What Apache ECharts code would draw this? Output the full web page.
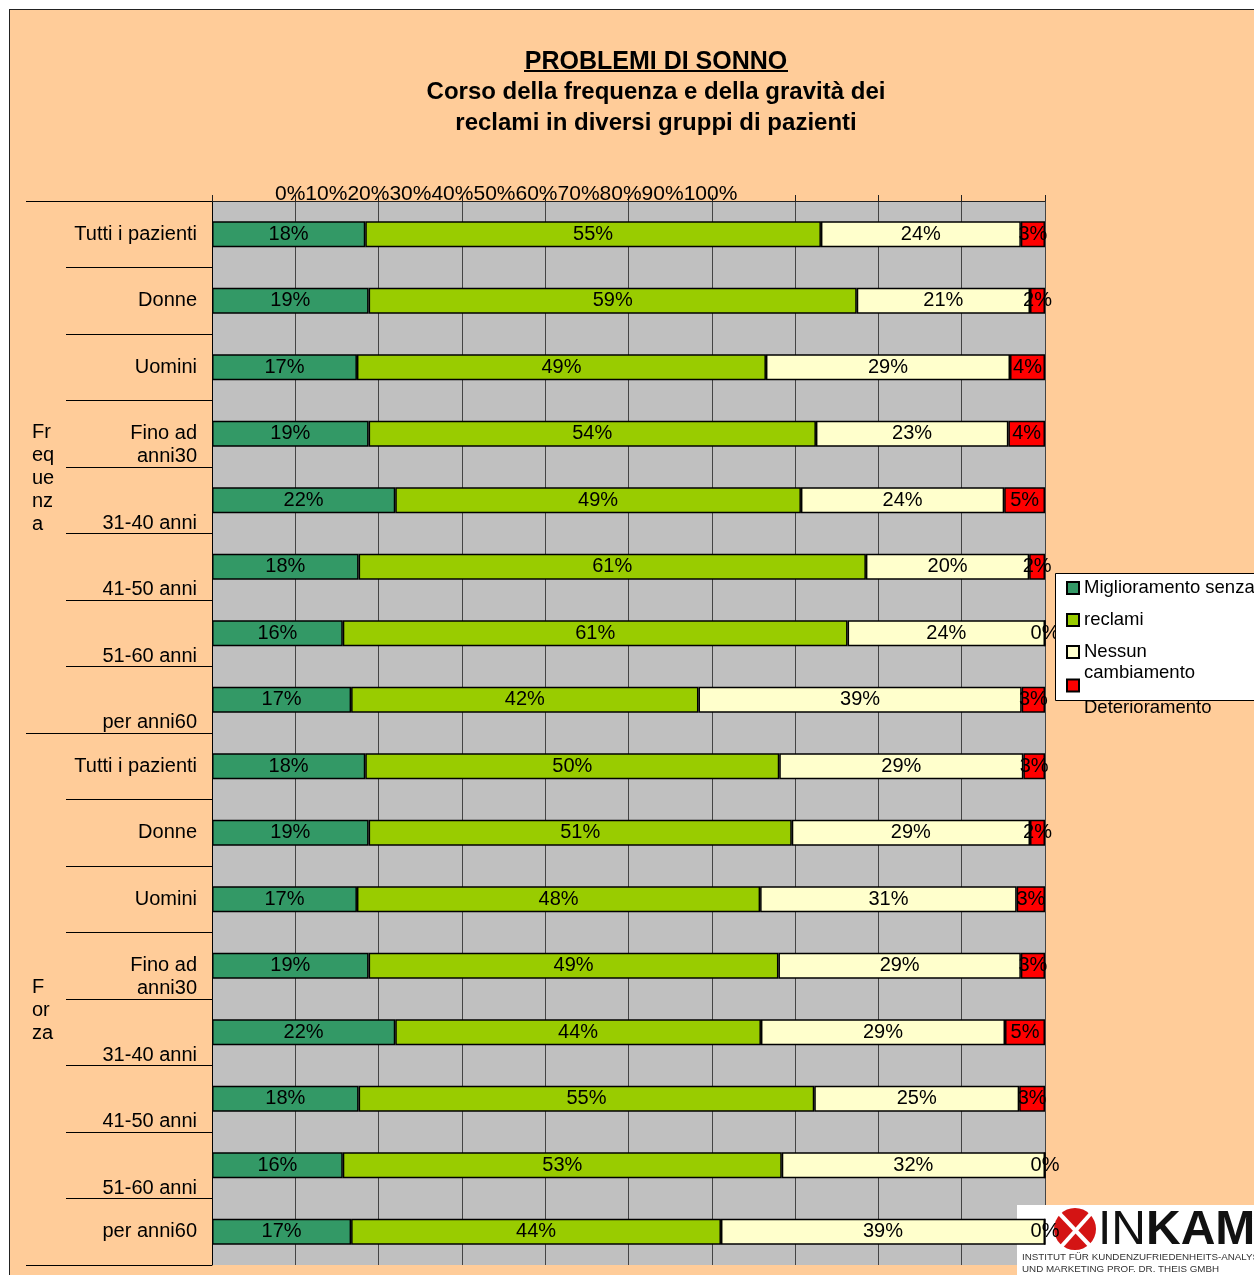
<!DOCTYPE html>
<html>
<head>
<meta charset="utf-8">
<title>Problemi di sonno</title>
<script src="https://cdn.jsdelivr.net/npm/echarts@6/dist/echarts.min.js"></script>
<style>
  html, body { margin: 0; padding: 0; background: #fff; }
  #wrap { position: relative; width: 1254px; height: 1275px; overflow: hidden; }
  #frame { position: absolute; left: 9px; top: 9px; width: 1300px; height: 1300px; background: #FFCC99; border: 1px solid #222; }
  #chart { position: absolute; left: 0; top: 0; width: 1254px; height: 1275px; }
</style>
</head>
<body>
<div id="wrap">
  <div id="frame"></div>
  <div id="chart"></div>
</div>
<script>
// righe del grafico (dall'alto in basso)
const categories = [
  'Tutti i pazienti', 'Donne', 'Uomini', '\nFino ad\nanni30',
  '\n\n31-40 anni', '\n\n41-50 anni', '\n\n51-60 anni', '\n\nper anni60',
  'Tutti i pazienti', 'Donne', 'Uomini', '\nFino ad\nanni30',
  '\n\n31-40 anni', '\n\n41-50 anni', '\n\n51-60 anni', 'per anni60'
]
const groups = ['Frequenza', 'Forza']
const tickLabels = ['0%', '10%', '20%', '30%', '40%', '50%', '60%', '70%', '80%', '90%', '100%']

const seriesNames = ['Miglioramento', 'senza reclami', 'Nessun cambiamento', 'Deterioramento']
// testo della legenda come appare (a capo di Excel)
const legendText = ['\nMiglioramento senza\n', '\nreclami\n', '\nNessun\ncambiamento', '\n\nDeterioramento']

// percentuali
const miglioramento = [18.4, 18.8, 17.4, 18.8, 22.0, 17.6, 15.7, 16.7, 18.4, 18.8, 17.4, 18.8, 22.0, 17.6, 15.7, 16.7]
const senzaReclami = [54.7, 58.6, 49.1, 53.7, 48.7, 60.9, 60.6, 41.7, 49.7, 50.8, 48.4, 49.2, 43.9, 54.7, 52.7, 44.4]
const nessunCambiamento = [24.0, 20.8, 29.3, 23.1, 24.4, 19.6, 23.7, 38.8, 29.3, 28.6, 30.8, 29.1, 29.3, 24.6, 31.6, 38.9]
const deterioramento = [2.9, 1.8, 4.2, 4.4, 4.9, 1.9, 0, 2.8, 2.6, 1.8, 3.4, 2.9, 4.8, 3.1, 0, 0]

const colors = ['#339966', '#99CC00', '#FFFFCC', '#FF0000']
const FONT = '"Liberation Sans", Arial, sans-serif'

const chart = echarts.init(document.getElementById('chart'))

const values = [miglioramento, senzaReclami, nessunCambiamento, deterioramento]
const series = seriesNames.map((name, i) => ({
  name: name,
  type: 'bar',
  stack: 'tot',
  barWidth: 26,
  data: values[i],
  itemStyle: { color: colors[i], borderColor: '#000', borderWidth: 1.5 },
  label: {
    show: true,
    position: 'inside',
    color: '#000',
    fontSize: 20,
    fontFamily: FONT,
    formatter: p => Math.round(p.value) + '%'
  }
}))

chart.setOption({
  animation: false,
  backgroundColor: 'transparent',
  title: {
    text: 'PROBLEMI DI SONNO',
    subtext: 'Corso della frequenza e della gravità dei\nreclami in diversi gruppi di pazienti',
    left: 651,
    top: 44,
    textAlign: 'center',
    itemGap: 2,
    textStyle: { fontFamily: FONT, fontSize: 25, fontWeight: 'bold', color: '#000', lineHeight: 26 },
    subtextStyle: { fontFamily: FONT, fontSize: 24, fontWeight: 'bold', color: '#000', lineHeight: 31 }
  },
  legend: {
    orient: 'vertical',
    left: 1066,
    top: 556.5,
    padding: 0,
    itemGap: -31,
    itemWidth: 12,
    itemHeight: 12,
    icon: 'rect',
    selectedMode: false,
    data: seriesNames.map((n, i) => i === 3 ? { name: n, textStyle: { lineHeight: 22 } } : n),
    formatter: name => legendText[seriesNames.indexOf(name)],
    textStyle: { fontFamily: FONT, fontSize: 18.5, color: '#000', lineHeight: 21 }
  },
  grid: {
    left: 212,
    top: 201,
    width: 833,
    height: 1064,
    show: true,
    backgroundColor: '#C0C0C0',
    borderWidth: 0
  },
  xAxis: {
    type: 'value',
    position: 'top',
    min: 0,
    max: 100,
    interval: 10,
    axisLine: { show: true, lineStyle: { color: '#222', width: 1 } },
    axisTick: { show: true, length: 6, lineStyle: { color: '#222' } },
    axisLabel: { show: false },
    splitLine: { show: true, lineStyle: { color: '#444', width: 1 } }
  },
  yAxis: [
    {
      type: 'category',
      inverse: true,
      data: categories,
      axisLine: { show: true, lineStyle: { color: '#000', width: 1 } },
      axisTick: { show: true, length: 146, lineStyle: { color: '#000', width: 1 } },
      axisLabel: { margin: 15, fontSize: 20, fontFamily: FONT, color: '#000', lineHeight: 23 }
    },
    {
      type: 'category',
      inverse: true,
      position: 'left',
      data: groups,
      axisLine: { show: false },
      axisTick: { show: true, length: 186, lineStyle: { color: '#000', width: 1 } },
      axisLabel: {
        margin: 180,
        align: 'left',
        fontSize: 20,
        fontFamily: FONT,
        color: '#000',
        lineHeight: 23,
        width: 22.7,
        overflow: 'breakAll',
        formatter: v => '\n' + v
      }
    }
  ],
  series: series,
  graphic: [
    { type: 'line', z: 5, shape: { x1: 524, y1: 71, x2: 788, y2: 71 }, style: { stroke: '#000', lineWidth: 2 } },
    {
      type: 'text', x: 275, y: 194, z: 5,
      style: { text: tickLabels.join(''), font: '21px ' + FONT, fill: '#000', verticalAlign: 'middle' }
    },
    {
      type: 'rect', z: 3,
      shape: { x: 1055.5, y: 573.5, width: 240, height: 127 },
      style: { fill: '#fff', stroke: '#000', lineWidth: 1 }
    },
    // logo INKAM
    {
      type: 'group', z: 2,
      children: [
        { type: 'rect', z: 2, shape: { x: 1017, y: 1205, width: 240, height: 72 }, style: { fill: '#fff' } },
        { type: 'circle', z: 2, shape: { cx: 1075, cy: 1229, r: 21 }, style: { fill: '#D41414' } },
        { type: 'line', z: 2, shape: { x1: 1058, y1: 1212, x2: 1094, y2: 1250 }, style: { stroke: '#fff', lineWidth: 4 } },
        { type: 'line', z: 2, shape: { x1: 1094, y1: 1210, x2: 1060, y2: 1248 }, style: { stroke: '#fff', lineWidth: 4 } },
        {
          type: 'text', z: 2, x: 1098, y: 1231,
          style: {
            text: '{a|IN}{b|KAM}', verticalAlign: 'middle',
            rich: {
              a: { font: '48px ' + FONT, fill: '#111' },
              b: { font: 'bold 48px ' + FONT, fill: '#111' }
            }
          }
        },
        {
          type: 'text', z: 2, x: 1022, y: 1252,
          style: { text: 'INSTITUT FÜR KUNDENZUFRIEDENHEITS-ANALYSEN\nUND MARKETING PROF. DR. THEIS GMBH', font: '9.8px ' + FONT, fill: '#333', lineHeight: 11.5 }
        }
      ]
    }
  ]
})
</script>
</body>
</html>
